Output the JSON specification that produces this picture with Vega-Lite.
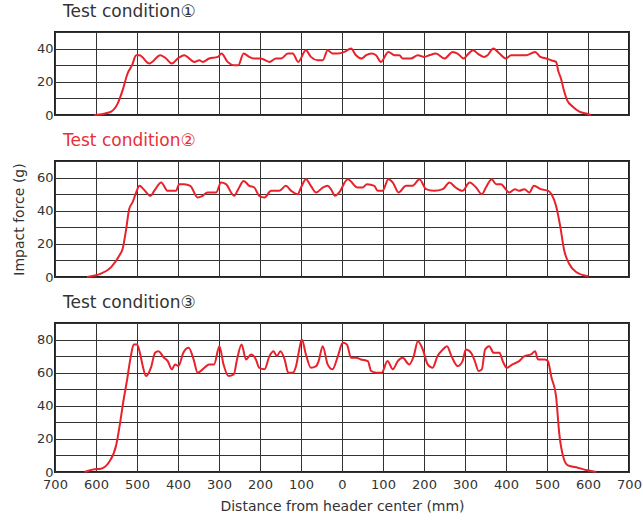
{
  "$schema": "https://vega.github.io/schema/vega-lite/v6.json",
  "padding": {"left": 11, "top": 2, "right": 12, "bottom": 5},
  "spacing": 8,
  "config": {
    "font": "DejaVu Sans",
    "view": {"stroke": "#222", "strokeWidth": 2},
    "axis": {"grid": true, "gridColor": "#333", "gridWidth": 1, "gridOpacity": 1, "ticks": false, "domain": false, "labelFontSize": 13, "labelColor": "#333", "labelPadding": 2, "labelOverlap": false, "labelFlush": false, "titleFontWeight": "normal", "titleColor": "#333", "titleFontSize": 14},
    "title": {"anchor": "start", "frame": "group", "dx": 8, "offset": 5, "fontSize": 17, "fontWeight": "normal", "color": "#333"}
  },
  "datasets": {
    "c1": [
      {"x": -604, "y": 0}, {"x": -580, "y": 0.8}, {"x": -563, "y": 2}, {"x": -547, "y": 7}, {"x": -535, "y": 15}, {"x": -523, "y": 25}, {"x": -512, "y": 30}, {"x": -502, "y": 36}, {"x": -494, "y": 36}, {"x": -470, "y": 31}, {"x": -443, "y": 36}, {"x": -429, "y": 34}, {"x": -415, "y": 31}, {"x": -401, "y": 34}, {"x": -385, "y": 36}, {"x": -360, "y": 32}, {"x": -348, "y": 33}, {"x": -340, "y": 32}, {"x": -324, "y": 34}, {"x": -303, "y": 35}, {"x": -294, "y": 37}, {"x": -279, "y": 32}, {"x": -263, "y": 30}, {"x": -253, "y": 30}, {"x": -240, "y": 37}, {"x": -226, "y": 35}, {"x": -214, "y": 34}, {"x": -198, "y": 34}, {"x": -177, "y": 32}, {"x": -161, "y": 34}, {"x": -149, "y": 34}, {"x": -132, "y": 37}, {"x": -120, "y": 37}, {"x": -107, "y": 32}, {"x": -88, "y": 39}, {"x": -76, "y": 35}, {"x": -59, "y": 33}, {"x": -47, "y": 33}, {"x": -35, "y": 39}, {"x": -23, "y": 37}, {"x": -10, "y": 37}, {"x": 6, "y": 38}, {"x": 22, "y": 40}, {"x": 34, "y": 36}, {"x": 48, "y": 34}, {"x": 59, "y": 36}, {"x": 72, "y": 37}, {"x": 83, "y": 36}, {"x": 95, "y": 32}, {"x": 113, "y": 38}, {"x": 128, "y": 36}, {"x": 140, "y": 36}, {"x": 148, "y": 34}, {"x": 168, "y": 34}, {"x": 185, "y": 36}, {"x": 201, "y": 35}, {"x": 213, "y": 36}, {"x": 229, "y": 37}, {"x": 250, "y": 34}, {"x": 270, "y": 38}, {"x": 282, "y": 37}, {"x": 297, "y": 34}, {"x": 305, "y": 36}, {"x": 320, "y": 39}, {"x": 331, "y": 37}, {"x": 346, "y": 35}, {"x": 355, "y": 36}, {"x": 369, "y": 40}, {"x": 384, "y": 37}, {"x": 400, "y": 34}, {"x": 412, "y": 36}, {"x": 432, "y": 36}, {"x": 449, "y": 36}, {"x": 471, "y": 38}, {"x": 484, "y": 35}, {"x": 498, "y": 34}, {"x": 510, "y": 33}, {"x": 522, "y": 32}, {"x": 528, "y": 26}, {"x": 534, "y": 22}, {"x": 541, "y": 15}, {"x": 549, "y": 9}, {"x": 563, "y": 5}, {"x": 579, "y": 2}, {"x": 599, "y": 0.6}, {"x": 607, "y": 0}
    ],
    "c2": [
      {"x": -622, "y": 0}, {"x": -588, "y": 2}, {"x": -563, "y": 6}, {"x": -543, "y": 13}, {"x": -535, "y": 17}, {"x": -527, "y": 28}, {"x": -519, "y": 41}, {"x": -511, "y": 45}, {"x": -502, "y": 51}, {"x": -494, "y": 55}, {"x": -484, "y": 53}, {"x": -467, "y": 49}, {"x": -458, "y": 52}, {"x": -441, "y": 57}, {"x": -425, "y": 52}, {"x": -405, "y": 52}, {"x": -397, "y": 56}, {"x": -385, "y": 56}, {"x": -370, "y": 55}, {"x": -352, "y": 48}, {"x": -340, "y": 49}, {"x": -328, "y": 51}, {"x": -307, "y": 51}, {"x": -295, "y": 57}, {"x": -283, "y": 56}, {"x": -263, "y": 49}, {"x": -253, "y": 53}, {"x": -240, "y": 58}, {"x": -226, "y": 55}, {"x": -214, "y": 54}, {"x": -202, "y": 49}, {"x": -189, "y": 48}, {"x": -173, "y": 52}, {"x": -153, "y": 52}, {"x": -137, "y": 55}, {"x": -124, "y": 52}, {"x": -108, "y": 50}, {"x": -100, "y": 54}, {"x": -88, "y": 59}, {"x": -76, "y": 55}, {"x": -63, "y": 51}, {"x": -47, "y": 54}, {"x": -35, "y": 55}, {"x": -27, "y": 53}, {"x": -17, "y": 49}, {"x": -7, "y": 51}, {"x": 14, "y": 59}, {"x": 38, "y": 54}, {"x": 50, "y": 54}, {"x": 61, "y": 56}, {"x": 79, "y": 55}, {"x": 87, "y": 52}, {"x": 99, "y": 52}, {"x": 113, "y": 59}, {"x": 124, "y": 57}, {"x": 138, "y": 51}, {"x": 156, "y": 55}, {"x": 172, "y": 55}, {"x": 189, "y": 59}, {"x": 205, "y": 53}, {"x": 225, "y": 52}, {"x": 246, "y": 53}, {"x": 262, "y": 57}, {"x": 277, "y": 54}, {"x": 294, "y": 52}, {"x": 311, "y": 57}, {"x": 327, "y": 54}, {"x": 341, "y": 50}, {"x": 351, "y": 54}, {"x": 365, "y": 59}, {"x": 376, "y": 56}, {"x": 388, "y": 56}, {"x": 396, "y": 54}, {"x": 408, "y": 51}, {"x": 422, "y": 53}, {"x": 432, "y": 52}, {"x": 445, "y": 53}, {"x": 457, "y": 51}, {"x": 468, "y": 55}, {"x": 485, "y": 53}, {"x": 503, "y": 52}, {"x": 511, "y": 50}, {"x": 522, "y": 43}, {"x": 532, "y": 31}, {"x": 542, "y": 16}, {"x": 554, "y": 8}, {"x": 571, "y": 3}, {"x": 601, "y": 0.4}
    ],
    "c3": [
      {"x": -628, "y": 0}, {"x": -604, "y": 1.6}, {"x": -588, "y": 2}, {"x": -568, "y": 6}, {"x": -551, "y": 16}, {"x": -541, "y": 30}, {"x": -535, "y": 40}, {"x": -524, "y": 56}, {"x": -515, "y": 70}, {"x": -508, "y": 77}, {"x": -500, "y": 77}, {"x": -492, "y": 71}, {"x": -486, "y": 64}, {"x": -478, "y": 58}, {"x": -466, "y": 63}, {"x": -456, "y": 72}, {"x": -448, "y": 73}, {"x": -434, "y": 69}, {"x": -425, "y": 67}, {"x": -415, "y": 62}, {"x": -407, "y": 65}, {"x": -399, "y": 64}, {"x": -387, "y": 72}, {"x": -374, "y": 75}, {"x": -362, "y": 68}, {"x": -352, "y": 60}, {"x": -340, "y": 62}, {"x": -324, "y": 65}, {"x": -312, "y": 65}, {"x": -299, "y": 76}, {"x": -289, "y": 65}, {"x": -277, "y": 58}, {"x": -264, "y": 59}, {"x": -256, "y": 68}, {"x": -245, "y": 77}, {"x": -234, "y": 68}, {"x": -222, "y": 71}, {"x": -210, "y": 68}, {"x": -202, "y": 63}, {"x": -189, "y": 62}, {"x": -177, "y": 70}, {"x": -167, "y": 73}, {"x": -159, "y": 70}, {"x": -150, "y": 73}, {"x": -140, "y": 68}, {"x": -131, "y": 60}, {"x": -120, "y": 60}, {"x": -112, "y": 64}, {"x": -105, "y": 73}, {"x": -98, "y": 80}, {"x": -88, "y": 71}, {"x": -76, "y": 63}, {"x": -63, "y": 64}, {"x": -57, "y": 67}, {"x": -47, "y": 76}, {"x": -35, "y": 65}, {"x": -23, "y": 62}, {"x": -10, "y": 70}, {"x": 2, "y": 78}, {"x": 12, "y": 77}, {"x": 22, "y": 69}, {"x": 34, "y": 69}, {"x": 46, "y": 68}, {"x": 63, "y": 67}, {"x": 71, "y": 61}, {"x": 83, "y": 60}, {"x": 97, "y": 60}, {"x": 111, "y": 67}, {"x": 124, "y": 62}, {"x": 136, "y": 67}, {"x": 148, "y": 69}, {"x": 164, "y": 65}, {"x": 175, "y": 70}, {"x": 185, "y": 79}, {"x": 197, "y": 74}, {"x": 209, "y": 65}, {"x": 221, "y": 63}, {"x": 233, "y": 70}, {"x": 246, "y": 74}, {"x": 256, "y": 76}, {"x": 267, "y": 70}, {"x": 282, "y": 64}, {"x": 294, "y": 67}, {"x": 302, "y": 74}, {"x": 315, "y": 72}, {"x": 324, "y": 67}, {"x": 333, "y": 61}, {"x": 341, "y": 62}, {"x": 349, "y": 74}, {"x": 359, "y": 76}, {"x": 370, "y": 72}, {"x": 384, "y": 72}, {"x": 392, "y": 67}, {"x": 402, "y": 63}, {"x": 416, "y": 65}, {"x": 432, "y": 67}, {"x": 445, "y": 70}, {"x": 461, "y": 71}, {"x": 471, "y": 73}, {"x": 478, "y": 68}, {"x": 494, "y": 68}, {"x": 502, "y": 67}, {"x": 511, "y": 57}, {"x": 522, "y": 46}, {"x": 530, "y": 23}, {"x": 541, "y": 8}, {"x": 551, "y": 4}, {"x": 575, "y": 2.6}, {"x": 599, "y": 1}, {"x": 620, "y": 0}
    ]
  },
  "vconcat": [
    {
      "title": {"text": "Test condition①"},
      "width": 574, "height": 83,
      "data": {"name": "c1"},
      "mark": {"type": "line", "color": "#e8212b", "strokeWidth": 2, "interpolate": "monotone"},
      "encoding": {
        "x": {"field": "x", "type": "quantitative", "scale": {"domain": [-700, 700], "nice": false}, "axis": {"values": [-700, -600, -500, -400, -300, -200, -100, 0, 100, 200, 300, 400, 500, 600, 700], "labels": false, "title": null}},
        "y": {"field": "y", "type": "quantitative", "scale": {"domain": [0, 50], "nice": false}, "axis": {"values": [0, 10, 20, 30, 40, 50], "labelExpr": "datum.value % 20 == 0 ? datum.label : ''", "title": null}}
      }
    },
    {
      "title": {"text": "Test condition②", "color": "#e8303a"},
      "width": 574, "height": 116,
      "data": {"name": "c2"},
      "mark": {"type": "line", "color": "#e8212b", "strokeWidth": 2, "interpolate": "monotone"},
      "encoding": {
        "x": {"field": "x", "type": "quantitative", "scale": {"domain": [-700, 700], "nice": false}, "axis": {"values": [-700, -600, -500, -400, -300, -200, -100, 0, 100, 200, 300, 400, 500, 600, 700], "labels": false, "title": null}},
        "y": {"field": "y", "type": "quantitative", "scale": {"domain": [0, 70], "nice": false}, "axis": {"values": [0, 10, 20, 30, 40, 50, 60, 70], "labelExpr": "datum.value % 20 == 0 ? datum.label : ''", "title": "Impact force (g)", "titlePadding": 10}}
      }
    },
    {
      "title": {"text": "Test condition③"},
      "width": 574, "height": 149,
      "data": {"name": "c3"},
      "mark": {"type": "line", "color": "#e8212b", "strokeWidth": 2, "interpolate": "monotone"},
      "encoding": {
        "x": {"field": "x", "type": "quantitative", "scale": {"domain": [-700, 700], "nice": false}, "axis": {"values": [-700, -600, -500, -400, -300, -200, -100, 0, 100, 200, 300, 400, 500, 600, 700], "labelExpr": "format(abs(datum.value), 'd')", "labelPadding": 6, "title": "Distance from header center (mm)", "titleFontSize": 14, "titlePadding": 8}},
        "y": {"field": "y", "type": "quantitative", "scale": {"domain": [0, 90], "nice": false}, "axis": {"values": [0, 10, 20, 30, 40, 50, 60, 70, 80, 90], "labelExpr": "datum.value % 20 == 0 ? datum.label : ''", "title": null}}
      }
    }
  ]
}
